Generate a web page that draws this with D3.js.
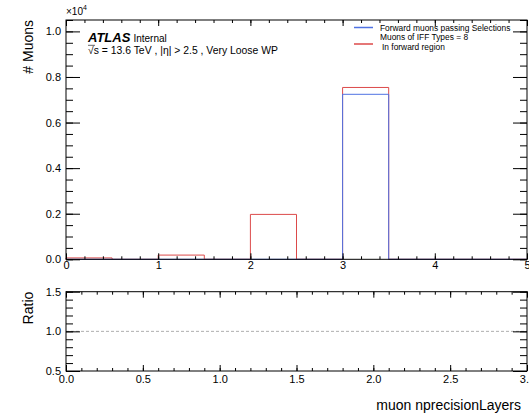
<!DOCTYPE html>
<html>
<head>
<meta charset="utf-8">
<script src="https://cdn.jsdelivr.net/npm/d3@7"></script>
<style>
  body { margin: 0; background: #fff; }
  svg { font-family: "Liberation Sans", Arial, sans-serif; }
</style>
</head>
<body>
<div id="chart"></div>
<script>
// bin edges of muon nprecisionLayers (width 0.5)
const binEdges = [0, 0.5, 1, 1.5, 2, 2.5, 3, 3.5, 4, 4.5, 5];
// counts per bin
const forwardPassing = [0, 0, 0, 0, 0, 0, 7240, 0, 0, 0];
const iffType8 = [60, 0, 185, 0, 1970, 0, 7540, 0, 0, 0];
const legendLabels = ["Forward muons passing Selections", "Muons of IFF Types = 8", "In forward region"];
const ratioTicks = [0.0, 0.5, 1.0, 1.5, 2.0, 2.5, 3.0];

const W = 529, H = 415;
const left = 66, right = 527;
const top1 = 20, bot1 = 259.3;
const top2 = 291.7, bot2 = 371;

const svg = d3.select("#chart").append("svg")
  .attr("width", W).attr("height", H);

const x = d3.scaleLinear().domain([0, 5]).range([left, right]);
const y = d3.scaleLinear().domain([0, 1.05]).range([bot1, top1]);
const xr = d3.scaleLinear().domain([0, 3]).range([left, right]);
const yr = d3.scaleLinear().domain([0.5, 1.5]).range([bot2, top2]);

const blue = "#4f72e3", red = "#dc4a4a";

// step histogram
function stepLine(vals) {
  const pts = [];
  vals.forEach((v, i) => {
    pts.push([binEdges[i], v / 1e4]);
    pts.push([binEdges[i + 1], v / 1e4]);
  });
  return d3.line().x(d => x(d[0])).y(d => y(d[1]))(
    [[binEdges[0], 0], ...pts, [binEdges[binEdges.length - 1], 0]]);
}

svg.append("path").attr("d", stepLine(iffType8))
  .attr("fill", "none").attr("stroke", red).attr("stroke-width", 1);
svg.append("path").attr("d", stepLine(forwardPassing))
  .attr("fill", "none").attr("stroke", blue).attr("stroke-width", 1);

// ratio reference line
svg.append("line")
  .attr("x1", left).attr("x2", right)
  .attr("y1", yr(1)).attr("y2", yr(1))
  .attr("stroke", "#999").attr("stroke-width", 0.8)
  .attr("stroke-dasharray", "3,2");

// ROOT-like axes with inward ticks
function styleAxis(g) {
  g.select(".domain").remove();
  g.selectAll("line").attr("stroke", "#000");
  g.selectAll("text").attr("fill", "#000").style("font-size", "11px");
}
function frameAxes(xs, ys, yTop, yBot, xMajor, xMinor, yMajor, yMinor, xPad, yFmt, xFmt) {
  // bottom
  svg.append("g").attr("transform", `translate(0,${yBot})`)
    .call(d3.axisBottom(xs).tickValues(xMajor).tickSize(-6).tickPadding(xPad).tickFormat(xFmt))
    .call(styleAxis);
  svg.append("g").attr("transform", `translate(0,${yBot})`)
    .call(d3.axisBottom(xs).tickValues(xMinor).tickSize(-3).tickFormat(""))
    .call(styleAxis);
  // top
  svg.append("g").attr("transform", `translate(0,${yTop})`)
    .call(d3.axisTop(xs).tickValues(xMajor).tickSize(-6).tickFormat(""))
    .call(styleAxis);
  svg.append("g").attr("transform", `translate(0,${yTop})`)
    .call(d3.axisTop(xs).tickValues(xMinor).tickSize(-3).tickFormat(""))
    .call(styleAxis);
  // left
  svg.append("g").attr("transform", `translate(${left},0)`)
    .call(d3.axisLeft(ys).tickValues(yMajor).tickSize(-14).tickPadding(5).tickFormat(yFmt))
    .call(styleAxis);
  svg.append("g").attr("transform", `translate(${left},0)`)
    .call(d3.axisLeft(ys).tickValues(yMinor).tickSize(-7).tickFormat(""))
    .call(styleAxis);
  // right
  svg.append("g").attr("transform", `translate(${right},0)`)
    .call(d3.axisRight(ys).tickValues(yMajor).tickSize(-14).tickFormat(""))
    .call(styleAxis);
  svg.append("g").attr("transform", `translate(${right},0)`)
    .call(d3.axisRight(ys).tickValues(yMinor).tickSize(-7).tickFormat(""))
    .call(styleAxis);
  svg.append("rect")
    .attr("x", left).attr("y", yTop)
    .attr("width", right - left).attr("height", yBot - yTop)
    .attr("fill", "none").attr("stroke", "#000").attr("stroke-width", 1);
}

const fmt1 = d3.format(".1f");
frameAxes(x, y, top1, bot1,
  d3.range(0, 5.01, 1), d3.range(0, 5.01, 0.2),
  d3.range(0, 1.01, 0.2), d3.range(0, 1.051, 0.05),
  2, fmt1, d3.format("d"));
frameAxes(xr, yr, top2, bot2,
  ratioTicks, d3.range(0, 3.01, 0.1),
  [0.5, 1.0, 1.5], d3.range(0.5, 1.51, 0.1),
  4, fmt1, fmt1);

// exponent label
const expo = svg.append("text").attr("x", 66).attr("y", 15)
  .style("font-size", "10px");
expo.append("tspan").text("\u00d710");
expo.append("tspan").attr("dy", -5).style("font-size", "7px").text("4");

// axis titles
svg.append("text")
  .attr("transform", `translate(33,${top1}) rotate(-90)`)
  .attr("text-anchor", "end")
  .style("font-size", "14px")
  .text("# Muons");
svg.append("text")
  .attr("transform", `translate(33,${top2}) rotate(-90)`)
  .attr("text-anchor", "end")
  .style("font-size", "14px")
  .text("Ratio");
svg.append("text")
  .attr("x", 521).attr("y", 410)
  .attr("text-anchor", "end")
  .style("font-size", "14px")
  .text("muon nprecisionLayers");

// ATLAS label
const atl = svg.append("text").attr("x", 88).attr("y", 41.5);
atl.append("tspan").style("font-weight", "bold").style("font-style", "italic")
  .style("font-size", "13px").text("ATLAS");
atl.append("tspan").attr("dx", 3).style("font-size", "10px").text("Internal");

svg.append("text").attr("x", 88).attr("y", 54)
  .style("font-size", "10.4px")
  .text("\u221As = 13.6 TeV , |\u03b7| > 2.5 , Very Loose WP");
svg.append("line")
  .attr("x1", 88).attr("x2", 95).attr("y1", 45.3).attr("y2", 45.3)
  .attr("stroke", "#000").attr("stroke-width", 0.6);

// legend
const leg = svg.append("g").style("font-size", "8.4px");
leg.append("line").attr("x1", 354).attr("x2", 373).attr("y1", 27.5).attr("y2", 27.5)
  .attr("stroke", blue).attr("stroke-width", 1.5);
leg.append("text").attr("x", 380).attr("y", 30.5).text(legendLabels[0]);
leg.append("line").attr("x1", 354).attr("x2", 373).attr("y1", 44).attr("y2", 44)
  .attr("stroke", red).attr("stroke-width", 1.5);
leg.append("text").attr("x", 380).attr("y", 40).text(legendLabels[1]);
leg.append("text").attr("x", 382).attr("y", 50).text(legendLabels[2]);
</script>
</body>
</html>
